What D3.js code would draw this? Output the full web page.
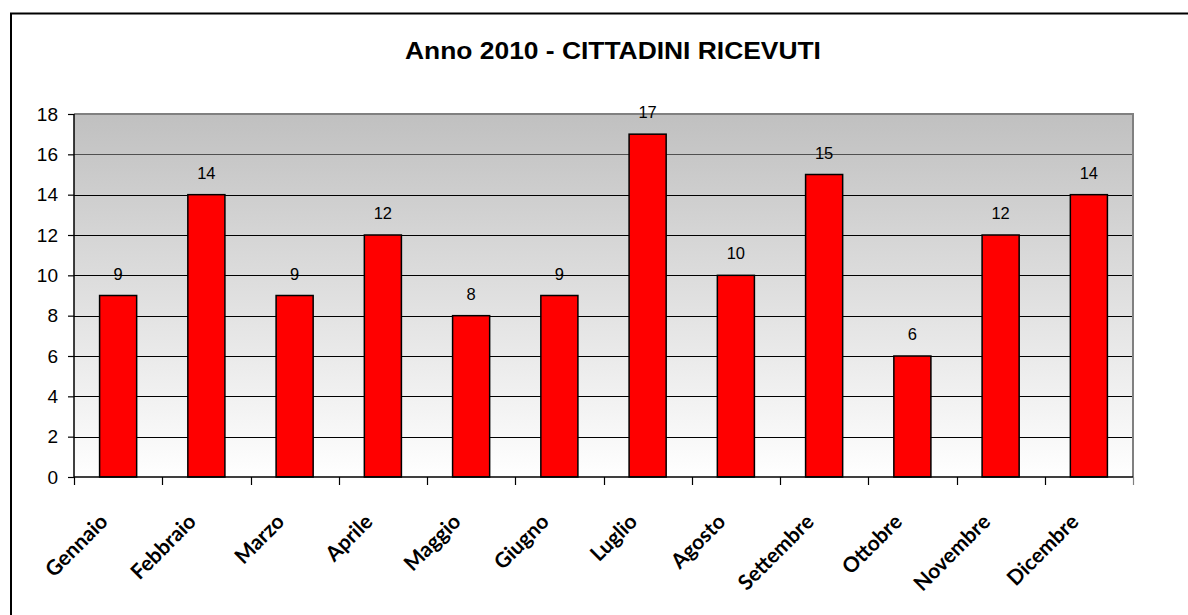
<!DOCTYPE html>
<html>
<head>
<meta charset="utf-8">
<script src="https://cdn.jsdelivr.net/npm/d3@7"></script>
<style>
  html, body { margin: 0; padding: 0; background: #fff; }
  svg { display: block; }
</style>
</head>
<body>
<svg id="chart" width="1188" height="615"></svg>
<script>
const title = "Anno 2010 - CITTADINI RICEVUTI";
const months = ["Gennaio","Febbraio","Marzo","Aprile","Maggio","Giugno","Luglio","Agosto","Settembre","Ottobre","Novembre","Dicembre"];
const values = [9, 14, 9, 12, 8, 9, 17, 10, 15, 6, 12, 14];
const yTicks = [0, 2, 4, 6, 8, 10, 12, 14, 16, 18];

const svg = d3.select("#chart");
const W = 1188, H = 615;
const plot = { left: 74, top: 114, right: 1133, bottom: 477 };

// outer chart border (only top and left visible)
svg.append("rect")
  .attr("x", 11).attr("y", 13.5)
  .attr("width", W + 20).attr("height", H + 20)
  .attr("fill", "#fff").attr("stroke", "#000").attr("stroke-width", 2);

// gradient
const defs = svg.append("defs");
const grad = defs.append("linearGradient").attr("id", "bg")
  .attr("x1", 0).attr("y1", 0).attr("x2", 0).attr("y2", 1);
grad.append("stop").attr("offset", "0%").attr("stop-color", "#c0c0c0");
grad.append("stop").attr("offset", "100%").attr("stop-color", "#ffffff");

const x = d3.scaleBand().domain(months)
  .range([plot.left, plot.right])
  .paddingInner(0.58).paddingOuter(0.29);
const y = d3.scaleLinear().domain([0, 18]).range([plot.bottom, plot.top]);

svg.append("rect")
  .attr("x", plot.left).attr("y", plot.top)
  .attr("width", plot.right - plot.left).attr("height", plot.bottom - plot.top)
  .attr("fill", "url(#bg)");

// gridlines
svg.append("g").selectAll("line").data(yTicks.filter(d => d > 0 && d < 18)).join("line")
  .attr("x1", plot.left).attr("x2", plot.right)
  .attr("y1", d => Math.round(y(d)) + 0.5).attr("y2", d => Math.round(y(d)) + 0.5)
  .attr("stroke", d => d >= 16 ? "#505050" : "#000").attr("stroke-width", 1.2);

// plot border top/right
svg.append("path")
  .attr("d", `M${plot.left},${plot.top} H${plot.right} V${plot.bottom}`)
  .attr("fill", "none").attr("stroke", "#808080").attr("stroke-width", 2);

// bars
svg.append("g").selectAll("rect").data(values).join("rect")
  .attr("x", (d, i) => x(months[i]))
  .attr("y", d => y(d))
  .attr("width", x.bandwidth())
  .attr("height", d => y(0) - y(d))
  .attr("fill", "#ff0000").attr("stroke", "#000").attr("stroke-width", 1.5);

// value labels
svg.append("g").selectAll("text").data(values).join("text")
  .attr("x", (d, i) => x(months[i]) + x.bandwidth() / 2)
  .attr("y", d => y(d) - 16)
  .attr("text-anchor", "middle")
  .attr("font-family", "Liberation Sans, Arial, sans-serif")
  .attr("font-size", 16.5).attr("fill", "#000")
  .text(d => d);

// Y axis
const yAxis = d3.axisLeft(y).tickValues(yTicks).tickSize(6).tickPadding(10);
const gy = svg.append("g").attr("transform", `translate(${plot.left},0)`).call(yAxis);
gy.select(".domain").attr("stroke", "#000").attr("stroke-width", 1.5).attr("d", `M0,${plot.top}V${plot.bottom}`);
gy.selectAll(".tick line").attr("stroke", "#000").attr("stroke-width", 1.2);
gy.selectAll(".tick text")
  .attr("font-family", "Liberation Sans, Arial, sans-serif")
  .attr("font-size", 19).attr("fill", "#000");

// X axis baseline and ticks at category boundaries
const step = x.step();
const boundaries = d3.range(months.length + 1).map(i => plot.left + i * step);
svg.append("line")
  .attr("x1", plot.left).attr("x2", plot.right)
  .attr("y1", plot.bottom).attr("y2", plot.bottom)
  .attr("stroke", "#000").attr("stroke-width", 1.5);
svg.append("g").selectAll("line").data(boundaries).join("line")
  .attr("x1", d => Math.round(d) + 0.5).attr("x2", d => Math.round(d) + 0.5)
  .attr("y1", plot.bottom).attr("y2", plot.bottom + 8)
  .attr("stroke", (d, i) => i === months.length ? "#808080" : "#000").attr("stroke-width", 1.2);

// X labels
svg.append("g").selectAll("text").data(months).join("text")
  .attr("transform", d => `translate(${x(d) + x.bandwidth() / 2 - 9},${plot.bottom + 46}) rotate(-45)`)
  .attr("text-anchor", "end")
  .attr("font-family", "Lato, 'Open Sans', sans-serif")
  .attr("font-weight", "bold")
  .attr("font-size", 21).attr("fill", "#000")
  .text(d => d);

// Title
svg.append("text")
  .attr("transform", "translate(613,59) scale(1.1,1)")
  .attr("text-anchor", "middle")
  .attr("font-family", "Liberation Sans, Arial, sans-serif")
  .attr("font-weight", "bold")
  .attr("font-size", 24).attr("fill", "#000")
  .text(title);
</script>
</body>
</html>
